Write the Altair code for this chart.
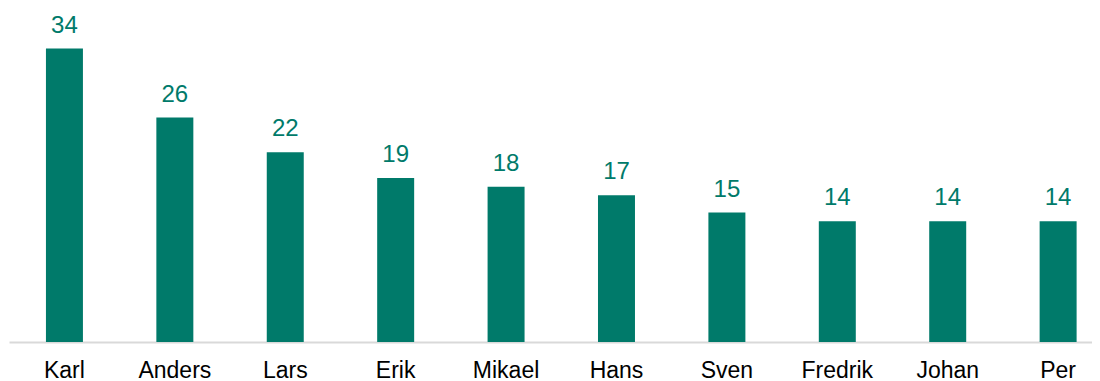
import altair as alt
import pandas as pd

names = ["Karl", "Anders", "Lars", "Erik", "Mikael", "Hans", "Sven", "Fredrik", "Johan", "Per"]
counts = [34, 26, 22, 19, 18, 17, 15, 14, 14, 14]

df = pd.DataFrame({"name": names, "count": counts})

teal = "#007A6A"

x = alt.X("name:N", sort=names, title=None,
          scale=alt.Scale(paddingInner=0.665, paddingOuter=0.237, align=0.706),
          axis=alt.Axis(labelAngle=0, labelFont="Liberation Sans", labelFontSize=23,
                        labelColor="#000000", labelPadding=17, ticks=False,
                        domainColor="#D9D9D9", domainWidth=2, labelBaseline="top"))
y = alt.Y("count:Q", title=None, axis=None,
          scale=alt.Scale(domain=[0, 38.7], nice=False, zero=True))

bars = alt.Chart(df).mark_bar(color=teal).encode(x=x, y=y)
labels = alt.Chart(df).mark_text(color=teal, font="Liberation Sans", fontSize=24,
                                 baseline="alphabetic", dy=-16).encode(
    x=alt.X("name:N", sort=names), y="count:Q", text="count:Q")

chart = (bars + labels).properties(
    width=1083, height=334,
    padding={"left": 1, "top": 0, "right": 0, "bottom": 0},
).configure(background="white").configure_view(stroke=None)

chart.save("out.html", embed_options={"renderer": "svg", "actions": False})
